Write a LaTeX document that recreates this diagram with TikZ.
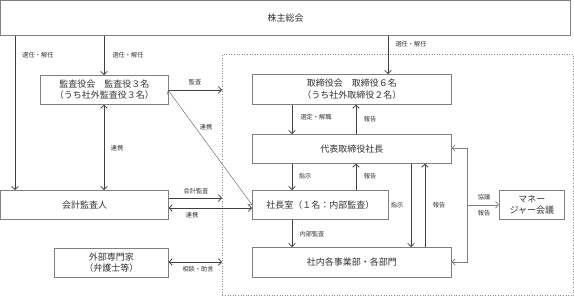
\documentclass[tikz,border=0pt]{standalone}
\usepackage{fontspec}
\setmainfont{Noto Sans CJK JP}
\usetikzlibrary{arrows.meta}
\begin{document}
\begin{tikzpicture}[x=1pt,y=-1pt,
  box/.style={draw=black!50,line width=0.7pt,fill=white,inner sep=0pt,align=center,font=\fontsize{9}{11.5}\selectfont,text=black!80},
  lab/.style={font=\fontsize{6.2}{7}\selectfont,text=black!80,inner sep=0pt},
  arr/.style={draw=black!75,line width=0.8pt,-{Straight Barb[length=3pt,width=6.5pt]}},
  darr/.style={draw=black!75,line width=0.8pt,{Straight Barb[length=3pt,width=6.5pt]}-{Straight Barb[length=3pt,width=6.5pt]}},
  thin/.style={draw=black!65,line width=0.4pt,{Straight Barb[length=3pt,width=6.5pt]}-{Straight Barb[length=3pt,width=6.5pt]}},
  grey/.style={draw=black!50,line width=0.7pt}
]
\useasboundingbox (0,0) rectangle (574,297);
% dashed group
\node[draw=black!45,dotted,line width=0.6pt,inner sep=0pt,minimum width=351pt,minimum height=241pt,anchor=north west] (grp) at (222,54) {};
% boxes
\node[box,minimum width=569.5pt,minimum height=34.5pt,anchor=north west] (sh) at (0.5,0.5) {株主総会};
\node[box,minimum width=128pt,minimum height=29pt,anchor=north west] (kansa) at (40,75) {監査役会　監査役３名\\（うち社外監査役３名）};
\node[box,minimum width=199pt,minimum height=30pt,anchor=north west] (tori) at (252,74) {取締役会　取締役６名\\（うち社外取締役２名）};
\node[box,minimum width=199pt,minimum height=29pt,anchor=north west] (dai) at (252,134) {代表取締役社長};
\node[box,minimum width=136pt,minimum height=29pt,anchor=north west] (shacho) at (252,190) {社長室（１名：内部監査）};
\node[box,minimum width=199pt,minimum height=30pt,anchor=north west] (jigyo) at (252,247) {社内各事業部・各部門};
\node[box,minimum width=65pt,minimum height=29pt,anchor=north west] (mgr) at (499,190) {マネー\\ジャー会議};
\node[box,minimum width=167.5pt,minimum height=29pt,anchor=north west] (kaikei) at (0.5,190) {会計監査人};
\node[box,minimum width=114pt,minimum height=29pt,anchor=north west] (gaibu) at (54,248) {外部専門家\\（弁護士等）};
% coordinates
\coordinate (xa) at (15,0);
\coordinate (xb) at (104,0);
\coordinate (xc) at (388,0);
\coordinate (xd) at (292,0);
\coordinate (xe) at (356,0);
\coordinate (xf) at (411,0);
\coordinate (xg) at (425,0);
\coordinate (xh) at (467,0);
\coordinate (ya) at (0,198);
\coordinate (yb) at (0,208);
\coordinate (yc) at (0,262);
\coordinate (yd) at (0,148);
\coordinate (kc) at (168,90);
% shareholder arrows
\draw[arr] (sh.south -| xa) -- (kaikei.north -| xa);
\draw[arr] (sh.south -| xb) -- (kansa.north -| xb);
\draw[arr] (sh.south -| xc) -- (tori.north -| xc);
\node[lab] (l1) at (38,55) {選任・解任};
\node[lab] (l2) at (128,55) {選任・解任};
\node[lab] (l3) at (411,44) {選任・解任};
% kansa
\draw[arr] (kansa.east |- kc) -- (grp.west |- kc);
\node[lab] (l4) at (195,82) {監査};
\draw[darr] (kansa.south -| xb) -- (kaikei.north -| xb);
\node[lab] (l5) at (117,148) {連携};
\draw[thin] (kc) -- (shacho.west);
\node[lab] (l6) at (206,127) {連携};
% kaikei
\draw[arr] (kaikei.east |- ya) -- (grp.west |- ya);
\node[lab] (l7) at (196,191) {会計監査};
\draw[darr] (kaikei.east |- yb) -- (shacho.west |- yb);
\node[lab] (l8) at (192,215) {連携};
% gaibu
\draw[darr] (gaibu.east |- yc) -- (grp.west |- yc);
\node[lab] (l9) at (198,269) {相談・助言};
% board internal
\draw[arr] (tori.south -| xd) -- (dai.north -| xd);
\draw[arr] (dai.north -| xe) -- (tori.south -| xe);
\node[lab] (l10) at (316,117) {選定・解職};
\node[lab] (l11) at (370,119) {報告};
\draw[arr] (dai.south -| xd) -- (shacho.north -| xd);
\draw[arr] (shacho.north -| xe) -- (dai.south -| xe);
\node[lab] (l12) at (305,176) {指示};
\node[lab] (l13) at (370,176) {報告};
\draw[arr] (shacho.south -| xd) -- (jigyo.north -| xd);
\node[lab] (l14) at (312,234) {内部監査};
\draw[arr] (dai.south -| xf) -- (jigyo.north -| xf);
\draw[arr] (jigyo.north -| xg) -- (dai.south -| xg);
\node[lab] (l15) at (397,205) {指示};
\node[lab] (l16) at (439,205) {報告};
% manager bracket
\draw[grey,{Straight Barb[length=3pt,width=6.5pt]}-{Straight Barb[length=3pt,width=6.5pt]}] (dai.east |- yd) -- (xh |- yd) -- (xh |- yc) -- (jigyo.east |- yc);
\draw[grey,-{Straight Barb[length=3pt,width=6.5pt]}] (xh |- mgr.west) -- (mgr.west);
\node[lab] (l17) at (484,197) {協議};
\node[lab] (l18) at (484,213) {報告};
\end{tikzpicture}
\end{document}
